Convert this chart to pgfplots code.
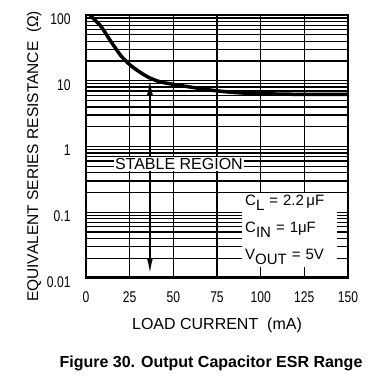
\documentclass[border=0pt]{standalone}
\usepackage{fontspec}
\setmainfont{Liberation Sans}
\newfontfamily\narrowfont[FakeStretch=0.78]{Liberation Sans}
\usepackage{pgfplots}
\pgfplotsset{compat=1.18}
\usetikzlibrary{arrows.meta}
\begin{document}
\begin{tikzpicture}
\begin{axis}[
  scale only axis,
  width=262bp, height=263bp,
  ymode=log,
  xmin=0, xmax=150, ymin=0.01, ymax=100,
  xtick={0,25,50,75,100,125,150},
  ytick={0.01,0.1,1,10,100},
  yticklabels={0.01,0.1,1,10,100},
  /pgf/number format/assume math mode=true,
  xmajorgrids, ymajorgrids, yminorgrids,
  major grid style={black, line width=1.5bp},
  minor grid style={black, line width=1.3bp},
  major tick length=0pt, minor tick length=0pt,
  axis line style={black, line width=2bp},
  ticklabel style={font=\narrowfont\fontsize{15.5bp}{18bp}\selectfont},
  xticklabel style={yshift=-10bp},
  yticklabel style={xshift=-12bp, yshift=-4bp},
  xlabel={LOAD CURRENT\ \ (mA)},
  ylabel={EQUIVALENT SERIES RESISTANCE\ \ (Ω)},
  every axis x label/.style={at={(rel axis cs:0.5,0)}, anchor=center, yshift=-47bp, font=\fontsize{16bp}{19bp}\selectfont},
  every axis y label/.style={at={(rel axis cs:0,0.5)}, anchor=center, rotate=90, yshift=52bp, xshift=-10bp, font=\fontsize{15.5bp}{18bp}\selectfont},
  clip=true,
]
\addplot[black, line width=3.5bp, smooth] coordinates {
 (2.3,100) (5,84) (8,70) (11,54) (14,40.5) (17,31) (20,24) (25,17.6) (30,14)
 (36,11.2) (42,9.7) (48,9.0) (60,8.0) (70,7.3) (80,6.8) (90,6.5) (100,6.35)
 (125,6.2) (150,6.2)};
\draw[line width=3.5bp] (rel axis cs:0,0) -- (rel axis cs:1,0);
\addplot[black, line width=1.5bp, {Latex[length=15bp,width=6bp]}-{Latex[length=15bp,width=6bp]}] coordinates {(36.6,0.0118) (36.6,10.2)};
\node[fill=white, inner sep=1.5bp, font=\fontsize{16bp}{19bp}\selectfont] at (axis cs:53.2,0.542) {STABLE REGION};
\node[fill=white, anchor=north west, inner xsep=3bp, inner ysep=2bp, text width=89bp, align=left,
  font=\fontsize{15bp}{27bp}\selectfont] at (axis cs:89.3,0.196)
  {C\raisebox{-5bp}{L} = 2.2\,μF\\C\raisebox{-5bp}{IN} = 1μF\\V\raisebox{-5bp}{OUT} = 5V};
\end{axis}
\node[font=\bfseries\fontsize{16bp}{19bp}\selectfont] at ([xshift=125bp,yshift=-85bp]current axis.south west) {Figure 30. Output Capacitor ESR Range};
\path ([xshift=-86bp,yshift=-98bp]current axis.south west) rectangle ([xshift=291bp,yshift=278bp]current axis.south west);
\end{tikzpicture}
\end{document}
